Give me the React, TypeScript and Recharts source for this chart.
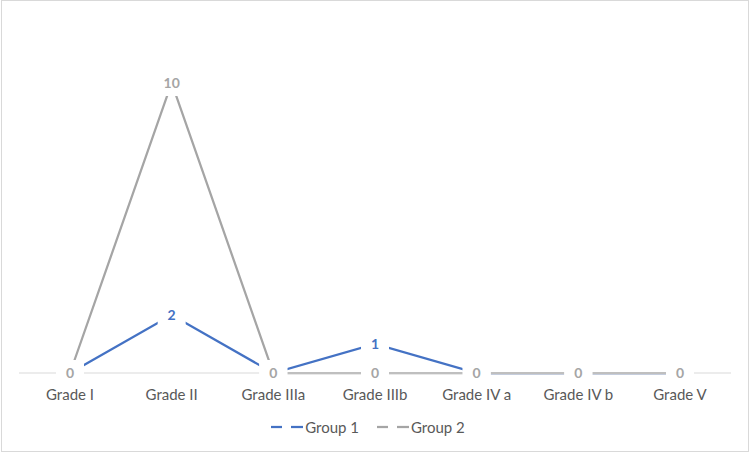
import React from 'react';
import { LineChart, Line, XAxis, YAxis, LabelList } from 'recharts';

const grades = ['Grade I', 'Grade II', 'Grade IIIa', 'Grade IIIb', 'Grade IV a', 'Grade IV b', 'Grade V'];
const group1 = [0, 2, 0, 1, 0, 0, 0];
const group2 = [0, 10, 0, 0, 0, 0, 0];

const BLUE = '#4472C4';
const GRAY = '#A5A5A5';
const FONT = 'Lato, "Open Sans", sans-serif';

const data = grades.map((grade, i) => ({ grade, g1: group1[i], g2: group2[i] }));

// data label with a white box behind it, so the line breaks around the number
const boxedLabel = (color: string) => (props: any) => {
  const { x, y, value } = props;
  const w = String(value).length * 8 + 20;
  return (
    <g>
      <rect x={x - w / 2} y={y - 13} width={w} height={26} fill="#fff" />
      <text x={x} y={y} dy="0.35em" textAnchor="middle" fill={color} fontSize={14} fontWeight={700} fontFamily={FONT}>
        {value}
      </text>
    </g>
  );
};

const LegendItem = ({ color, label }: { color: string; label: string }) => (
  <div style={{ display: 'flex', alignItems: 'center', marginRight: 16 }}>
    <svg width={36} height={10}>
      <line x1={2} y1={5} x2={13} y2={5} stroke={color} strokeWidth={2.25} />
      <line x1={22} y1={5} x2={34} y2={5} stroke={color} strokeWidth={2.25} />
    </svg>
    <span style={{ fontSize: 15, color: '#595959', fontFamily: FONT }}>{label}</span>
  </div>
);

export default function App() {
  return (
    <div style={{ position: 'fixed', left: 0, top: 0, width: 750, height: 453, background: '#fff' }}>
      <div style={{ position: 'absolute', left: 1, top: 0, right: 1, bottom: 1, border: '1px solid #D9D9D9' }} />
      <div style={{ position: 'absolute', left: 0, top: 0 }}>
        <LineChart width={750} height={453} data={data} margin={{ top: 25, right: 19, bottom: 50, left: 19 }}>
          <XAxis
            dataKey="grade"
            height={30}
            padding={{ left: 51, right: 51 }}
            axisLine={{ stroke: '#D9D9D9', strokeWidth: 1 }}
            tickLine={false}
            tickMargin={10}
            tick={{ fill: '#595959', fontSize: 15, fontFamily: FONT }}
            interval={0}
          />
          <YAxis hide domain={[0, 12]} />
          <Line dataKey="g1" stroke={BLUE} strokeWidth={2.25} dot={false} isAnimationActive={false}>
            <LabelList dataKey="g1" content={boxedLabel(BLUE)} />
          </Line>
          <Line dataKey="g2" stroke={GRAY} strokeWidth={2.25} dot={false} isAnimationActive={false}>
            <LabelList dataKey="g2" content={boxedLabel(GRAY)} />
          </Line>
        </LineChart>
      </div>
      <div style={{ position: 'absolute', left: 0, width: 750, top: 418, display: 'flex', justifyContent: 'center' }}>
        <LegendItem color={BLUE} label="Group 1" />
        <LegendItem color={GRAY} label="Group 2" />
      </div>
    </div>
  );
}
